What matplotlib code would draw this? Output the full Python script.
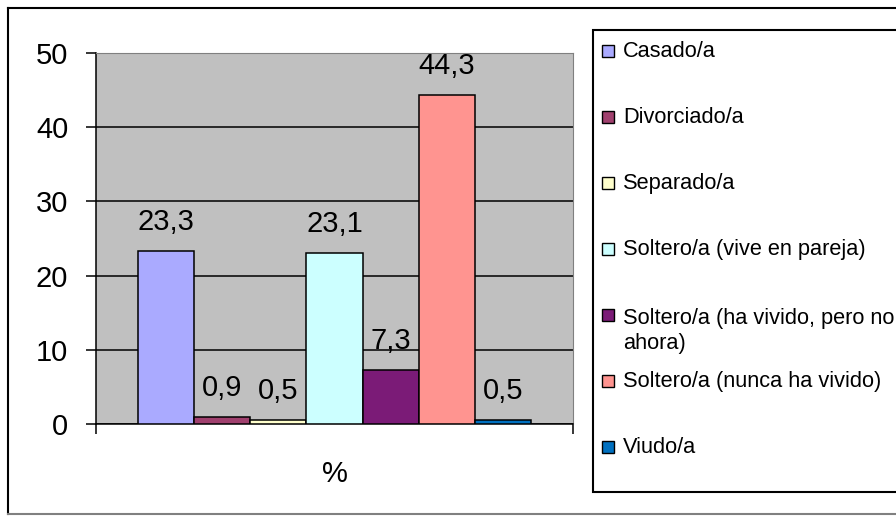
import matplotlib.pyplot as plt
from matplotlib.patches import Rectangle
from matplotlib.lines import Line2D

plt.rcParams['font.family'] = ['Liberation Sans', 'DejaVu Sans']

categories = ["Casado/a", "Divorciado/a", "Separado/a", "Soltero/a (vive en pareja)",
              "Soltero/a (ha vivido, pero no\nahora)", "Soltero/a (nunca ha vivido)", "Viudo/a"]
values = [23.3, 0.9, 0.5, 23.1, 7.3, 44.3, 0.5]
value_labels = ["23,3", "0,9", "0,5", "23,1", "7,3", "44,3", "0,5"]
colors = ["#AAAAFF", "#A0406E", "#FFFFCC", "#CCFFFF", "#7B1B77", "#FF9490", "#0070C0"]
y_ticks = [0, 10, 20, 30, 40, 50]
x_label = "%"

W, H = 896, 516
fig = plt.figure(figsize=(W / 100, H / 100), dpi=100)

# outer chart border
fig.add_artist(Line2D([8 / W, 8 / W], [2 / H, 1 - 8 / H], color="black", lw=1.5))
fig.add_artist(Line2D([8 / W, 1.0], [1 - 8 / H, 1 - 8 / H], color="black", lw=1.5))
fig.add_artist(Line2D([8 / W, 1.0], [2 / H, 2 / H], color="#808080", lw=1.5))

ax = fig.add_axes([96 / W, 92 / H, 477 / W, 371 / H])
ax.set_facecolor("#C0C0C0")

n = len(values)
w = 1.0 / (n + 1.5)
x0 = 0.75 * w
for i, (v, c, lab) in enumerate(zip(values, colors, value_labels)):
    xc = x0 + w * i + w / 2
    ax.bar(xc, v, width=w, color=c, edgecolor="black", linewidth=1.1, zorder=3)
    ax.annotate(lab, (xc, v), xytext=(0, 15), textcoords="offset points",
                ha="center", va="baseline", fontsize=21, zorder=4)

ax.set_xlim(0, 1)
ax.set_ylim(0, 50)
ax.set_yticks(y_ticks)
ax.yaxis.grid(True, color="black", linewidth=1.1, zorder=1)
ax.set_axisbelow(True)
ax.tick_params(axis="y", direction="out", length=7, width=1.1, labelsize=21, pad=13)

ax.set_xticks([0.5])
ax.set_xticklabels([x_label])
ax.set_xticks([0, 1], minor=True)
ax.tick_params(axis="x", which="major", length=0, labelsize=21, pad=26)
ax.tick_params(axis="x", which="minor", direction="out", length=7, width=1.1)

for s in ["top", "right"]:
    ax.spines[s].set_color("#808080")
for s in ["left", "bottom"]:
    ax.spines[s].set_color("black")
    ax.spines[s].set_linewidth(1.1)

# legend box drawn by hand to keep the original's even spacing
fig.add_artist(Rectangle((593 / W, 24 / H), 1.0, 462 / H, transform=fig.transFigure,
                         facecolor="white", edgecolor="black", lw=1.5, zorder=0))
step = 66 / H
base = 1 - 57 / H
line_gap = 28.5 / H
for i, (lab, c) in enumerate(zip(categories, colors)):
    yb = base - i * step
    fig.add_artist(Rectangle((602 / W, yb), 12 / W, 12 / H, transform=fig.transFigure,
                             facecolor=c, edgecolor="black", lw=1.0))
    extra = lab.count("\n") * line_gap
    fig.text(623 / W, yb - extra, lab, fontsize=15.7, va="baseline", ha="left",
             linespacing=1.3)

fig.savefig("out.png", dpi=100)
